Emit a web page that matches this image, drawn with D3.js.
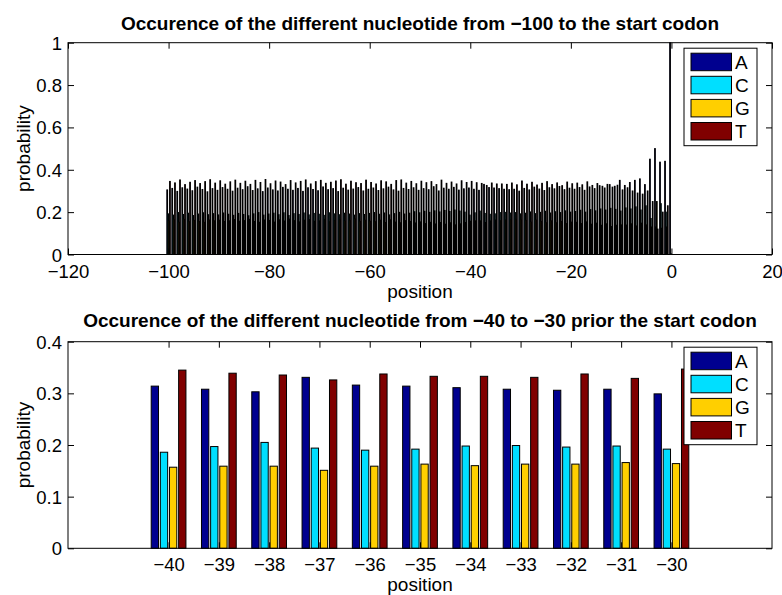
<!DOCTYPE html>
<html>
<head>
<meta charset="utf-8">
<script src="https://cdn.jsdelivr.net/npm/d3@7"></script>
<style>
    body { margin: 0; background: #fff; }
    svg { display: block; font-family: "Liberation Sans", Arial, sans-serif; }
</style>
</head>
<body>
<div id="chart"></div>
<script>
// Nucleotide labels and bar colours
const nucleotides = ['A', 'C', 'G', 'T'];
const nucleotideColors = ['#00008f', '#00dfff', '#ffcf00', '#800000'];

// Top panel: positions -100 .. 0
const topPositions = d3.range(-100, 1);
const topA = [
    0.305, 0.312, 0.298, 0.315, 0.309, 0.301, 0.318, 0.307, 0.296, 0.311,
    0.303, 0.316, 0.308, 0.299, 0.313, 0.306, 0.320, 0.302, 0.310, 0.297,
    0.314, 0.305, 0.300, 0.317, 0.308, 0.303, 0.312, 0.298, 0.315, 0.307,
    0.301, 0.319, 0.306, 0.311, 0.297, 0.313, 0.304, 0.309, 0.316, 0.300,
    0.308, 0.314, 0.302, 0.310, 0.318, 0.305, 0.299, 0.312, 0.307, 0.315,
    0.303, 0.311, 0.306, 0.320, 0.300, 0.313, 0.308, 0.317, 0.304, 0.310,
    0.314, 0.308, 0.303, 0.331, 0.316, 0.314, 0.311, 0.308, 0.306, 0.308, 0.299,
    0.312, 0.305, 0.318, 0.309, 0.302, 0.315, 0.310, 0.321, 0.306, 0.313,
    0.308, 0.316, 0.303, 0.319, 0.311, 0.325, 0.314, 0.330, 0.322, 0.350,
    0.326, 0.340, 0.350, 0.357, 0.330, 0.450, 0.500, 0.436, 0.440,
    1.000
];
const topC = [
    0.192, 0.186, 0.198, 0.189, 0.195, 0.184, 0.191, 0.197, 0.188, 0.193,
    0.187, 0.196, 0.190, 0.185, 0.194, 0.189, 0.183, 0.192, 0.198, 0.186,
    0.191, 0.195, 0.188, 0.197, 0.184, 0.193, 0.189, 0.196, 0.187, 0.194,
    0.190, 0.185, 0.197, 0.192, 0.188, 0.195, 0.191, 0.186, 0.193, 0.189,
    0.194, 0.198, 0.190, 0.196, 0.187, 0.193, 0.199, 0.191, 0.195, 0.202,
    0.197, 0.204, 0.199, 0.206, 0.201, 0.208, 0.203, 0.210, 0.205, 0.200,
    0.186, 0.197, 0.205, 0.194, 0.190, 0.192, 0.198, 0.199, 0.196, 0.198, 0.192,
    0.195, 0.201, 0.193, 0.199, 0.204, 0.196, 0.202, 0.198, 0.206, 0.200,
    0.203, 0.209, 0.200, 0.212, 0.206, 0.215, 0.210, 0.218, 0.213, 0.205,
    0.220, 0.215, 0.225, 0.210, 0.230, 0.170, 0.130, 0.240, 0.200,
    0.003
];
const topG = [
    0.158, 0.164, 0.152, 0.166, 0.155, 0.161, 0.156, 0.152, 0.163, 0.159,
    0.162, 0.156, 0.159, 0.165, 0.157, 0.160, 0.166, 0.156, 0.152, 0.163,
    0.161, 0.153, 0.164, 0.158, 0.167, 0.160, 0.154, 0.162, 0.165, 0.157,
    0.159, 0.166, 0.155, 0.161, 0.163, 0.158, 0.160, 0.168, 0.156, 0.162,
    0.157, 0.155, 0.162, 0.151, 0.164, 0.153, 0.150, 0.160, 0.156, 0.149,
    0.154, 0.146, 0.152, 0.144, 0.151, 0.143, 0.150, 0.140, 0.145, 0.151,
    0.157, 0.159, 0.159, 0.151, 0.159, 0.163, 0.160, 0.163, 0.163, 0.166, 0.164,
    0.161, 0.153, 0.163, 0.156, 0.150, 0.159, 0.150, 0.156, 0.146, 0.153,
    0.152, 0.146, 0.154, 0.143, 0.148, 0.138, 0.145, 0.132, 0.138, 0.140,
    0.139, 0.145, 0.135, 0.148, 0.140, 0.130, 0.250, 0.124, 0.130,
    0.000
];
const topT = [
    0.345, 0.338, 0.352, 0.330, 0.341, 0.349, 0.335, 0.344, 0.353, 0.337,
    0.348, 0.332, 0.343, 0.351, 0.336, 0.346, 0.331, 0.350, 0.340, 0.354,
    0.334, 0.347, 0.342, 0.330, 0.349, 0.338, 0.345, 0.352, 0.333, 0.344,
    0.350, 0.336, 0.341, 0.347, 0.353, 0.332, 0.346, 0.339, 0.335, 0.351,
    0.340, 0.333, 0.348, 0.343, 0.331, 0.349, 0.352, 0.337, 0.345, 0.334,
    0.346, 0.339, 0.344, 0.330, 0.351, 0.336, 0.342, 0.333, 0.348, 0.340,
    0.345, 0.339, 0.3355, 0.326, 0.3375, 0.333, 0.333, 0.331, 0.3375, 0.329, 0.347,
    0.332, 0.341, 0.328, 0.336, 0.344, 0.330, 0.338, 0.325, 0.342, 0.334,
    0.337, 0.329, 0.343, 0.326, 0.335, 0.322, 0.331, 0.318, 0.327, 0.305,
    0.315, 0.300, 0.290, 0.285, 0.300, 0.250, 0.120, 0.200, 0.230,
    0.000
];
const topXTicks = [-120, -100, -80, -60, -40, -20, 0, 20];
const topYTicks = [0, 0.2, 0.4, 0.6, 0.8, 1];

// Bottom panel: positions -40 .. -30
const bottomPositions = [-40, -39, -38, -37, -36, -35, -34, -33, -32, -31, -30];
const bottomA = [0.314, 0.308, 0.303, 0.331, 0.316, 0.314, 0.311, 0.308, 0.306, 0.308, 0.299];
const bottomC = [0.186, 0.197, 0.205, 0.194, 0.190, 0.192, 0.198, 0.199, 0.196, 0.198, 0.192];
const bottomG = [0.157, 0.159, 0.159, 0.151, 0.159, 0.163, 0.160, 0.163, 0.163, 0.166, 0.164];
const bottomT = [0.345, 0.339, 0.3355, 0.326, 0.3375, 0.333, 0.333, 0.331, 0.3375, 0.329, 0.347];
const bottomYTicks = [0, 0.1, 0.2, 0.3, 0.4];

const svg = d3.select('#chart')
    .append('svg')
    .attr('width', 782)
    .attr('height', 595);

const fmt = d => (d < 0 ? '\u2212' : '') + (+Math.abs(d).toFixed(2));

function drawPanel(config) {
    const { title, titleY, top, bottom, xDomain, yDomain, xTicks, yTicks, positions, series, edgeWidth } = config;
    const left = 68, right = 772;

    const x = d3.scaleLinear().domain(xDomain).range([left, right]);
    const y = d3.scaleLinear().domain(yDomain).range([bottom, top]);

    // Matlab grouped bar layout: 4 bars per group
    const groupWidth = 4 / 5.5;
    const barWidth = groupWidth / 4 * 0.8;
    const offsets = [-1.5, -0.5, 0.5, 1.5].map(k => k * groupWidth / 4);

    const g = svg.append('g');

    series.forEach((values, s) => {
        g.append('g')
            .selectAll('rect')
            .data(values)
            .join('rect')
            .attr('x', (d, i) => x(positions[i] + offsets[s] - barWidth / 2))
            .attr('width', x(barWidth) - x(0))
            .attr('y', d => y(d))
            .attr('height', d => y(0) - y(d))
            .attr('fill', nucleotideColors[s])
            .attr('stroke', '#000')
            .attr('stroke-width', edgeWidth);
    });

    // Axes with inward ticks
    const xAxis = g.append('g')
        .attr('transform', `translate(0,${bottom})`)
        .call(d3.axisBottom(x).tickValues(xTicks).tickSizeInner(-6).tickSizeOuter(0).tickFormat(fmt));
    xAxis.selectAll('text').attr('dy', null).attr('y', 23);

    const yAxis = g.append('g')
        .attr('transform', `translate(${left},0)`)
        .call(d3.axisLeft(y).tickValues(yTicks).tickSizeInner(-6).tickSizeOuter(0).tickPadding(6).tickFormat(fmt));
    yAxis.selectAll('text').attr('dy', null).attr('y', 6.5);

    g.append('g')
        .attr('transform', `translate(0,${top})`)
        .call(d3.axisTop(x).tickValues(xTicks).tickSizeInner(-6).tickSizeOuter(0).tickFormat(''));
    g.append('g')
        .attr('transform', `translate(${right},0)`)
        .call(d3.axisRight(y).tickValues(yTicks).tickSizeInner(-6).tickSizeOuter(0).tickFormat(''));

    g.selectAll('.domain').remove();
    g.selectAll('.tick text')
        .attr('font-size', 18.5)
        .attr('font-family', '"Liberation Sans", Arial, sans-serif')
        .attr('fill', '#000');

    // Box
    g.append('rect')
        .attr('x', left)
        .attr('y', top)
        .attr('width', right - left)
        .attr('height', bottom - top)
        .attr('fill', 'none')
        .attr('stroke', '#000')
        .attr('stroke-width', 1);

    // Titles and labels
    g.append('text')
        .attr('x', (left + right) / 2)
        .attr('y', titleY)
        .attr('text-anchor', 'middle')
        .attr('font-size', 19)
        .attr('font-weight', 'bold')
        .text(title);

    g.append('text')
        .attr('x', (left + right) / 2)
        .attr('y', bottom + 43)
        .attr('text-anchor', 'middle')
        .attr('font-size', 19)
        .text('position');

    g.append('text')
        .attr('transform', `translate(30,${(top + bottom) / 2}) rotate(-90)`)
        .attr('text-anchor', 'middle')
        .attr('font-size', 19)
        .text('probability');

    // Legend
    const legend = g.append('g')
        .attr('transform', `translate(684,${top + 5.5})`);

    legend.append('rect')
        .attr('width', 73)
        .attr('height', 97.5)
        .attr('fill', '#fff')
        .attr('stroke', '#000')
        .attr('stroke-width', 1);

    nucleotides.forEach((n, i) => {
        legend.append('rect')
            .attr('x', 7)
            .attr('y', 5 + i * 23.1)
            .attr('width', 40.5)
            .attr('height', 17.5)
            .attr('fill', nucleotideColors[i])
            .attr('stroke', '#000')
            .attr('stroke-width', 1);
        legend.append('text')
            .attr('x', 51)
            .attr('y', 5 + i * 23.1 + 15.5)
            .attr('font-size', 19)
            .text(n);
    });
}

drawPanel({
    title: 'Occurence of the different nucleotide from \u2212100 to the start codon',
    titleY: 29.5,
    top: 42.7,
    bottom: 254.5,
    xDomain: [-120, 20],
    yDomain: [0, 1],
    xTicks: topXTicks,
    yTicks: topYTicks,
    positions: topPositions,
    series: [topA, topC, topG, topT],
    edgeWidth: 1
});

drawPanel({
    title: 'Occurence of the different nucleotide from \u221240 to \u221230 prior the start codon',
    titleY: 326.5,
    top: 341.7,
    bottom: 548.3,
    xDomain: [-42, -28],
    yDomain: [0, 0.4],
    xTicks: bottomPositions,
    yTicks: bottomYTicks,
    positions: bottomPositions,
    series: [bottomA, bottomC, bottomG, bottomT],
    edgeWidth: 1
});
</script>
</body>
</html>
